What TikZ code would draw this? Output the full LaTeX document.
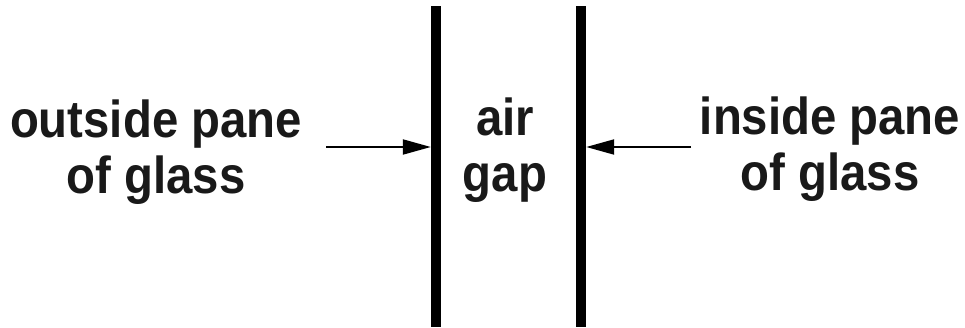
\documentclass[tikz,border=0pt]{standalone}
\usepackage{fontspec}
\setmainfont{Liberation Sans}[FakeStretch=0.91]
\usetikzlibrary{arrows.meta}
\tikzset{
  bar/.style={fill=black, draw=none, minimum width=10pt, minimum height=321pt, inner sep=0pt},
  lbl/.style={font=\fontsize{52}{56}\selectfont\bfseries, align=center, inner sep=0pt, text=black!90},
  arr/.style={line width=2pt, -{Triangle[length=28pt,width=15pt]}}
}
\begin{document}
\begin{tikzpicture}[x=1pt,y=1pt]
\useasboundingbox (0,0) rectangle (965,327);
\node[bar] (b1) at (436,160.5) {};
\node[bar] (b2) at (581,160.5) {};
\node[lbl] (outside) at (156,175.1) {outside pane\\of glass};
\node[lbl] (inside) at (830,178.1) {inside pane\\of glass};
\node[lbl] (air) at (505,177.1) {air\\gap};
\coordinate (la) at (326,180);
\coordinate (ra) at (691,180);
\draw[arr] (la) -- (la -| b1.west);
\draw[arr] (ra) -- (ra -| b2.east);
\end{tikzpicture}
\end{document}
